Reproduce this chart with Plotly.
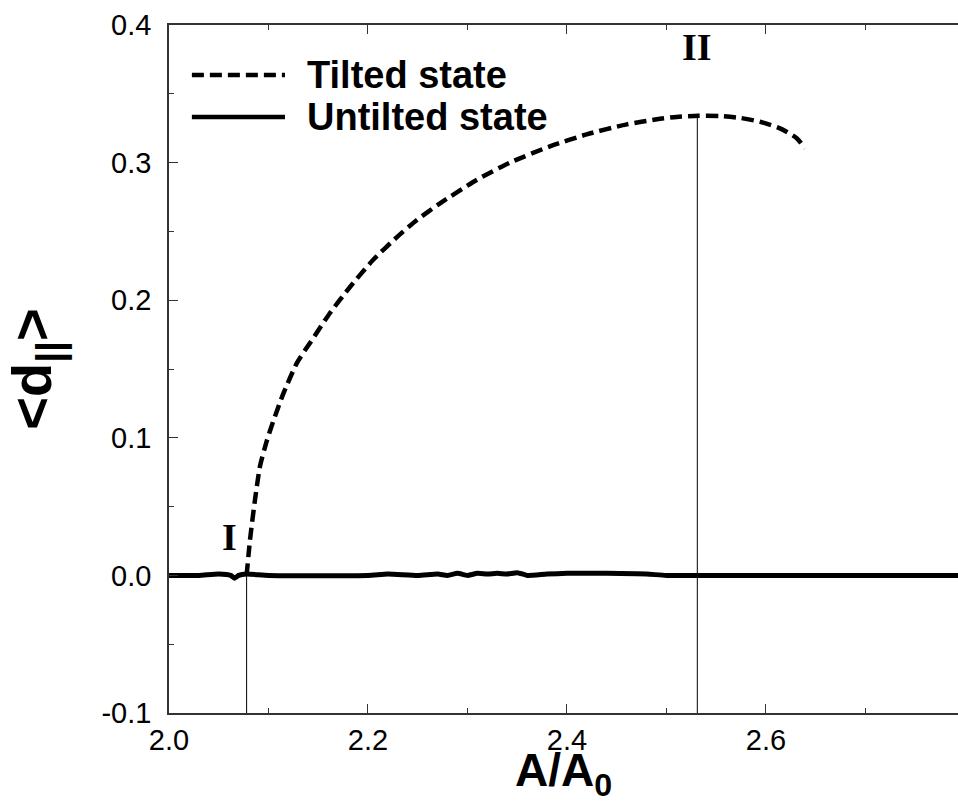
import plotly.graph_objects as go

# Tilted state (dashed)
tilted_x = [2.078, 2.0814, 2.0864, 2.0915, 2.0982, 2.1045, 2.1146, 2.1286, 2.1417, 2.1618,
            2.1819, 2.205, 2.2291, 2.2492, 2.2724, 2.3092, 2.3427, 2.3829, 2.4198, 2.46,
            2.4935, 2.5102, 2.5317, 2.5538, 2.5739, 2.594, 2.6141, 2.6309, 2.6392]
tilted_y = [0.0, 0.0257, 0.0548, 0.0795, 0.0975, 0.1115, 0.1315, 0.1545, 0.1689, 0.1907,
            0.2096, 0.2292, 0.2459, 0.2583, 0.2704, 0.2874, 0.3000, 0.3118, 0.3205, 0.3278,
            0.3318, 0.3332, 0.3340, 0.3338, 0.3325, 0.3297, 0.3249, 0.3177, 0.3104]

# Untilted state (solid)
untilted_x = [2.0, 2.03, 2.05, 2.062, 2.066, 2.07, 2.078, 2.1, 2.2, 2.22, 2.25, 2.27, 2.28,
              2.29, 2.30, 2.31, 2.32, 2.33, 2.34, 2.35, 2.36, 2.38, 2.40, 2.44, 2.48, 2.5,
              2.6, 2.8]
untilted_y = [0.0, 0.0, 0.001, 0.0, -0.002, 0.0, 0.001, 0.0, 0.0, 0.001, 0.0, 0.001, 0.0,
              0.0015, 0.0, 0.0015, 0.001, 0.0015, 0.001, 0.002, 0.0, 0.001, 0.0015, 0.0015,
              0.001, 0.0, 0.0, 0.0]

# Transition markers
mark_x = [2.078, 2.531]
mark_y = [0.003, 0.334]
mark_labels = ["I", "II"]
label_x = [2.061, 2.531]
label_y = [0.028, 0.384]

legend_names = ["Tilted state", "Untilted state"]

x_tickvals = [2.0, 2.2, 2.4, 2.6]
x_ticktext = ["2.0", "2.2", "2.4", "2.6"]
y_tickvals = [-0.1, 0.0, 0.1, 0.2, 0.3, 0.4]
y_ticktext = ["-0.1", "0.0", "0.1", "0.2", "0.3", "0.4"]

X_RANGE = [2.0, 2.793]
Y_RANGE = [-0.1, 0.4]

fig = go.Figure()

# Vertical marker lines
for mx, my in zip(mark_x, mark_y):
    fig.add_trace(go.Scatter(x=[mx, mx], y=[Y_RANGE[0], my], mode="lines",
                             line=dict(color="black", width=1), showlegend=False,
                             hoverinfo="skip"))

fig.add_trace(go.Scatter(x=untilted_x, y=untilted_y, mode="lines", name=legend_names[1],
                         line=dict(color="black", width=5, shape="spline", smoothing=0.5),
                         showlegend=False))
fig.add_trace(go.Scatter(x=tilted_x, y=tilted_y, mode="lines", name=legend_names[0],
                         line=dict(color="black", width=4.5, dash="12px,6px", shape="spline",
                                   smoothing=0.6),
                         showlegend=False))

for lx, ly, lt in zip(label_x, label_y, mark_labels):
    fig.add_annotation(x=lx, y=ly, text="<b>%s</b>" % lt, showarrow=False,
                       font=dict(family="Liberation Serif", size=38, color="black"))

# Manual legend
leg_y = [0.9273, 0.8663]
leg_dash = ["12px,6px", "solid"]
for ly, ld, name in zip(leg_y, leg_dash, legend_names):
    fig.add_shape(type="line", xref="paper", yref="paper", x0=0.029, x1=0.147, y0=ly, y1=ly,
                  line=dict(color="black", width=4.5, dash=ld))
    fig.add_annotation(xref="paper", yref="paper", x=0.173, y=ly, xanchor="left",
                       yanchor="middle", text="<b>%s</b>" % name, showarrow=False,
                       font=dict(family="Liberation Sans", size=38, color="black"))

axis_common = dict(showgrid=False, zeroline=False, showline=True, linecolor="#333",
                   linewidth=1.5, ticks="inside", tickcolor="#333", ticklen=9, tickwidth=1,
                   tickmode="array",
                   tickfont=dict(family="Liberation Sans", size=29, color="black"))

fig.update_xaxes(range=X_RANGE, tickvals=x_tickvals, ticktext=x_ticktext, mirror="ticks",
                 minor=dict(tickmode="linear", tick0=2.0, dtick=0.1, ticks="inside",
                            ticklen=5, tickcolor="#333"),
                 title=dict(text="<b>A/A<sub>0</sub></b>",
                            font=dict(family="Liberation Sans", size=46, color="black"),
                            standoff=2),
                 **axis_common)
fig.update_yaxes(range=Y_RANGE, tickvals=y_tickvals, ticktext=y_ticktext, mirror=False,
                 minor=dict(tickmode="linear", tick0=0.0, dtick=0.05, ticks="inside",
                            ticklen=5, tickcolor="#333"),
                 ticklabelstandoff=10,
                 title=dict(text="<b>&lt;d<sub>||</sub>&gt;</b>",
                            font=dict(family="Liberation Sans", size=56, color="black"),
                            standoff=32),
                 **axis_common)

fig.update_layout(width=958, height=803, margin=dict(l=169, r=0, t=25, b=90),
                  plot_bgcolor="white", paper_bgcolor="white", showlegend=False)

fig.write_html("out.html", config={"displayModeBar": False},
               post_script="document.body.style.margin='0px';"
                           "document.body.style.overflow='hidden';")
